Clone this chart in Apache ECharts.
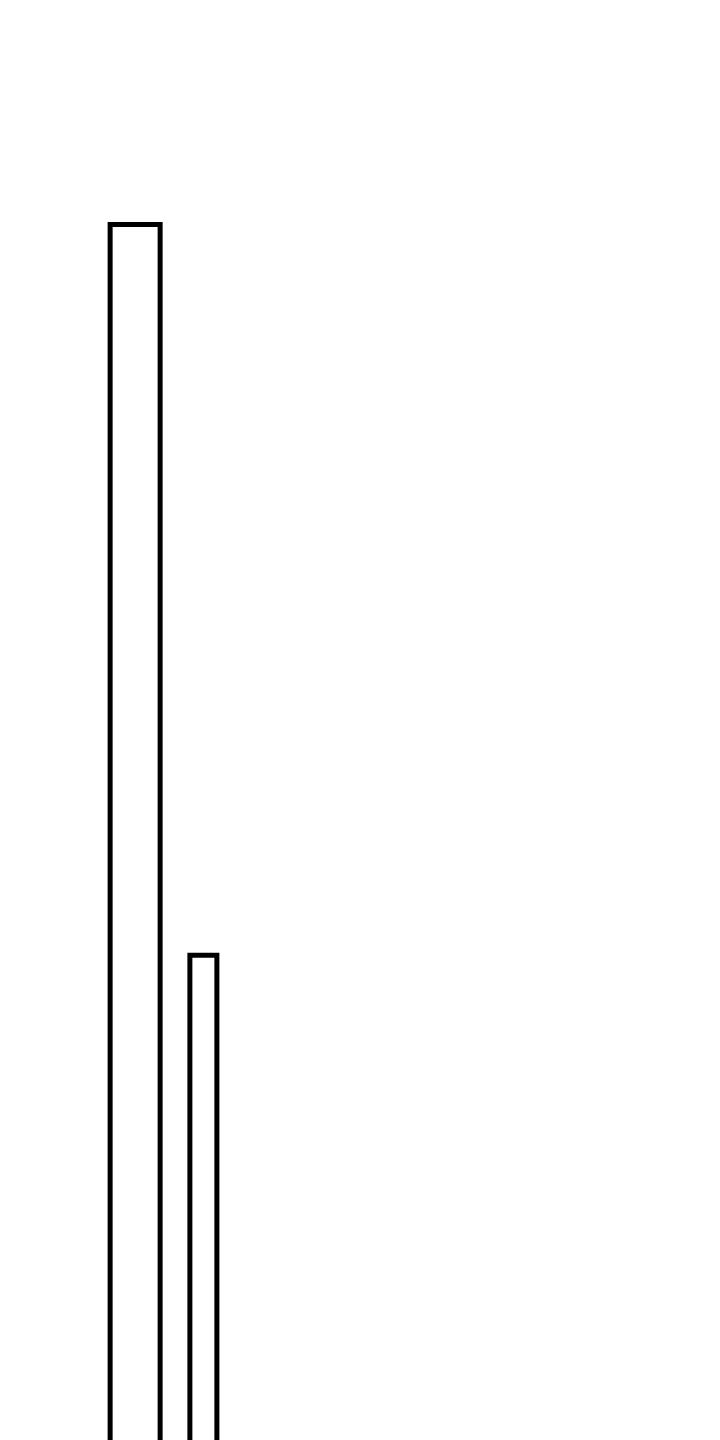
<!DOCTYPE html>
<html>
<head>
<meta charset="utf-8">
<style>html,body{margin:0;padding:0;background:#fff;overflow:hidden;}#chart{width:720px;height:1440px;}</style>
<script src="https://cdn.jsdelivr.net/npm/echarts@6/dist/echarts.min.js"></script>
</head>
<body>
<div id="chart"></div>
<script>
var categories = ['A'];
var seriesOneValues = [100];
var seriesTwoValues = [52];
var axisMin = 20;
var axisMax = 100;

var chart = echarts.init(document.getElementById('chart'), null, {renderer: 'canvas'});
chart.setOption({
  animation: false,
  backgroundColor: '#ffffff',
  grid: {left: 100, right: 493, top: 222, bottom: 0, containLabel: false},
  xAxis: {
    type: 'category', data: categories,
    axisLine: {show: false}, axisTick: {show: false}, axisLabel: {show: false}, splitLine: {show: false}
  },
  yAxis: {
    type: 'value', min: axisMin, max: axisMax,
    axisLine: {show: false}, axisTick: {show: false}, axisLabel: {show: false}, splitLine: {show: false}
  },
  series: [
    {type: 'bar', data: seriesOneValues, barWidth: 55, barGap: '45%', clip: false,
     itemStyle: {color: '#ffffff', borderColor: '#000000', borderWidth: 5}},
    {type: 'bar', data: seriesTwoValues, barWidth: 32, barGap: '45%', clip: false,
     itemStyle: {color: '#ffffff', borderColor: '#000000', borderWidth: 5}}
  ]
});
</script>
</body>
</html>
